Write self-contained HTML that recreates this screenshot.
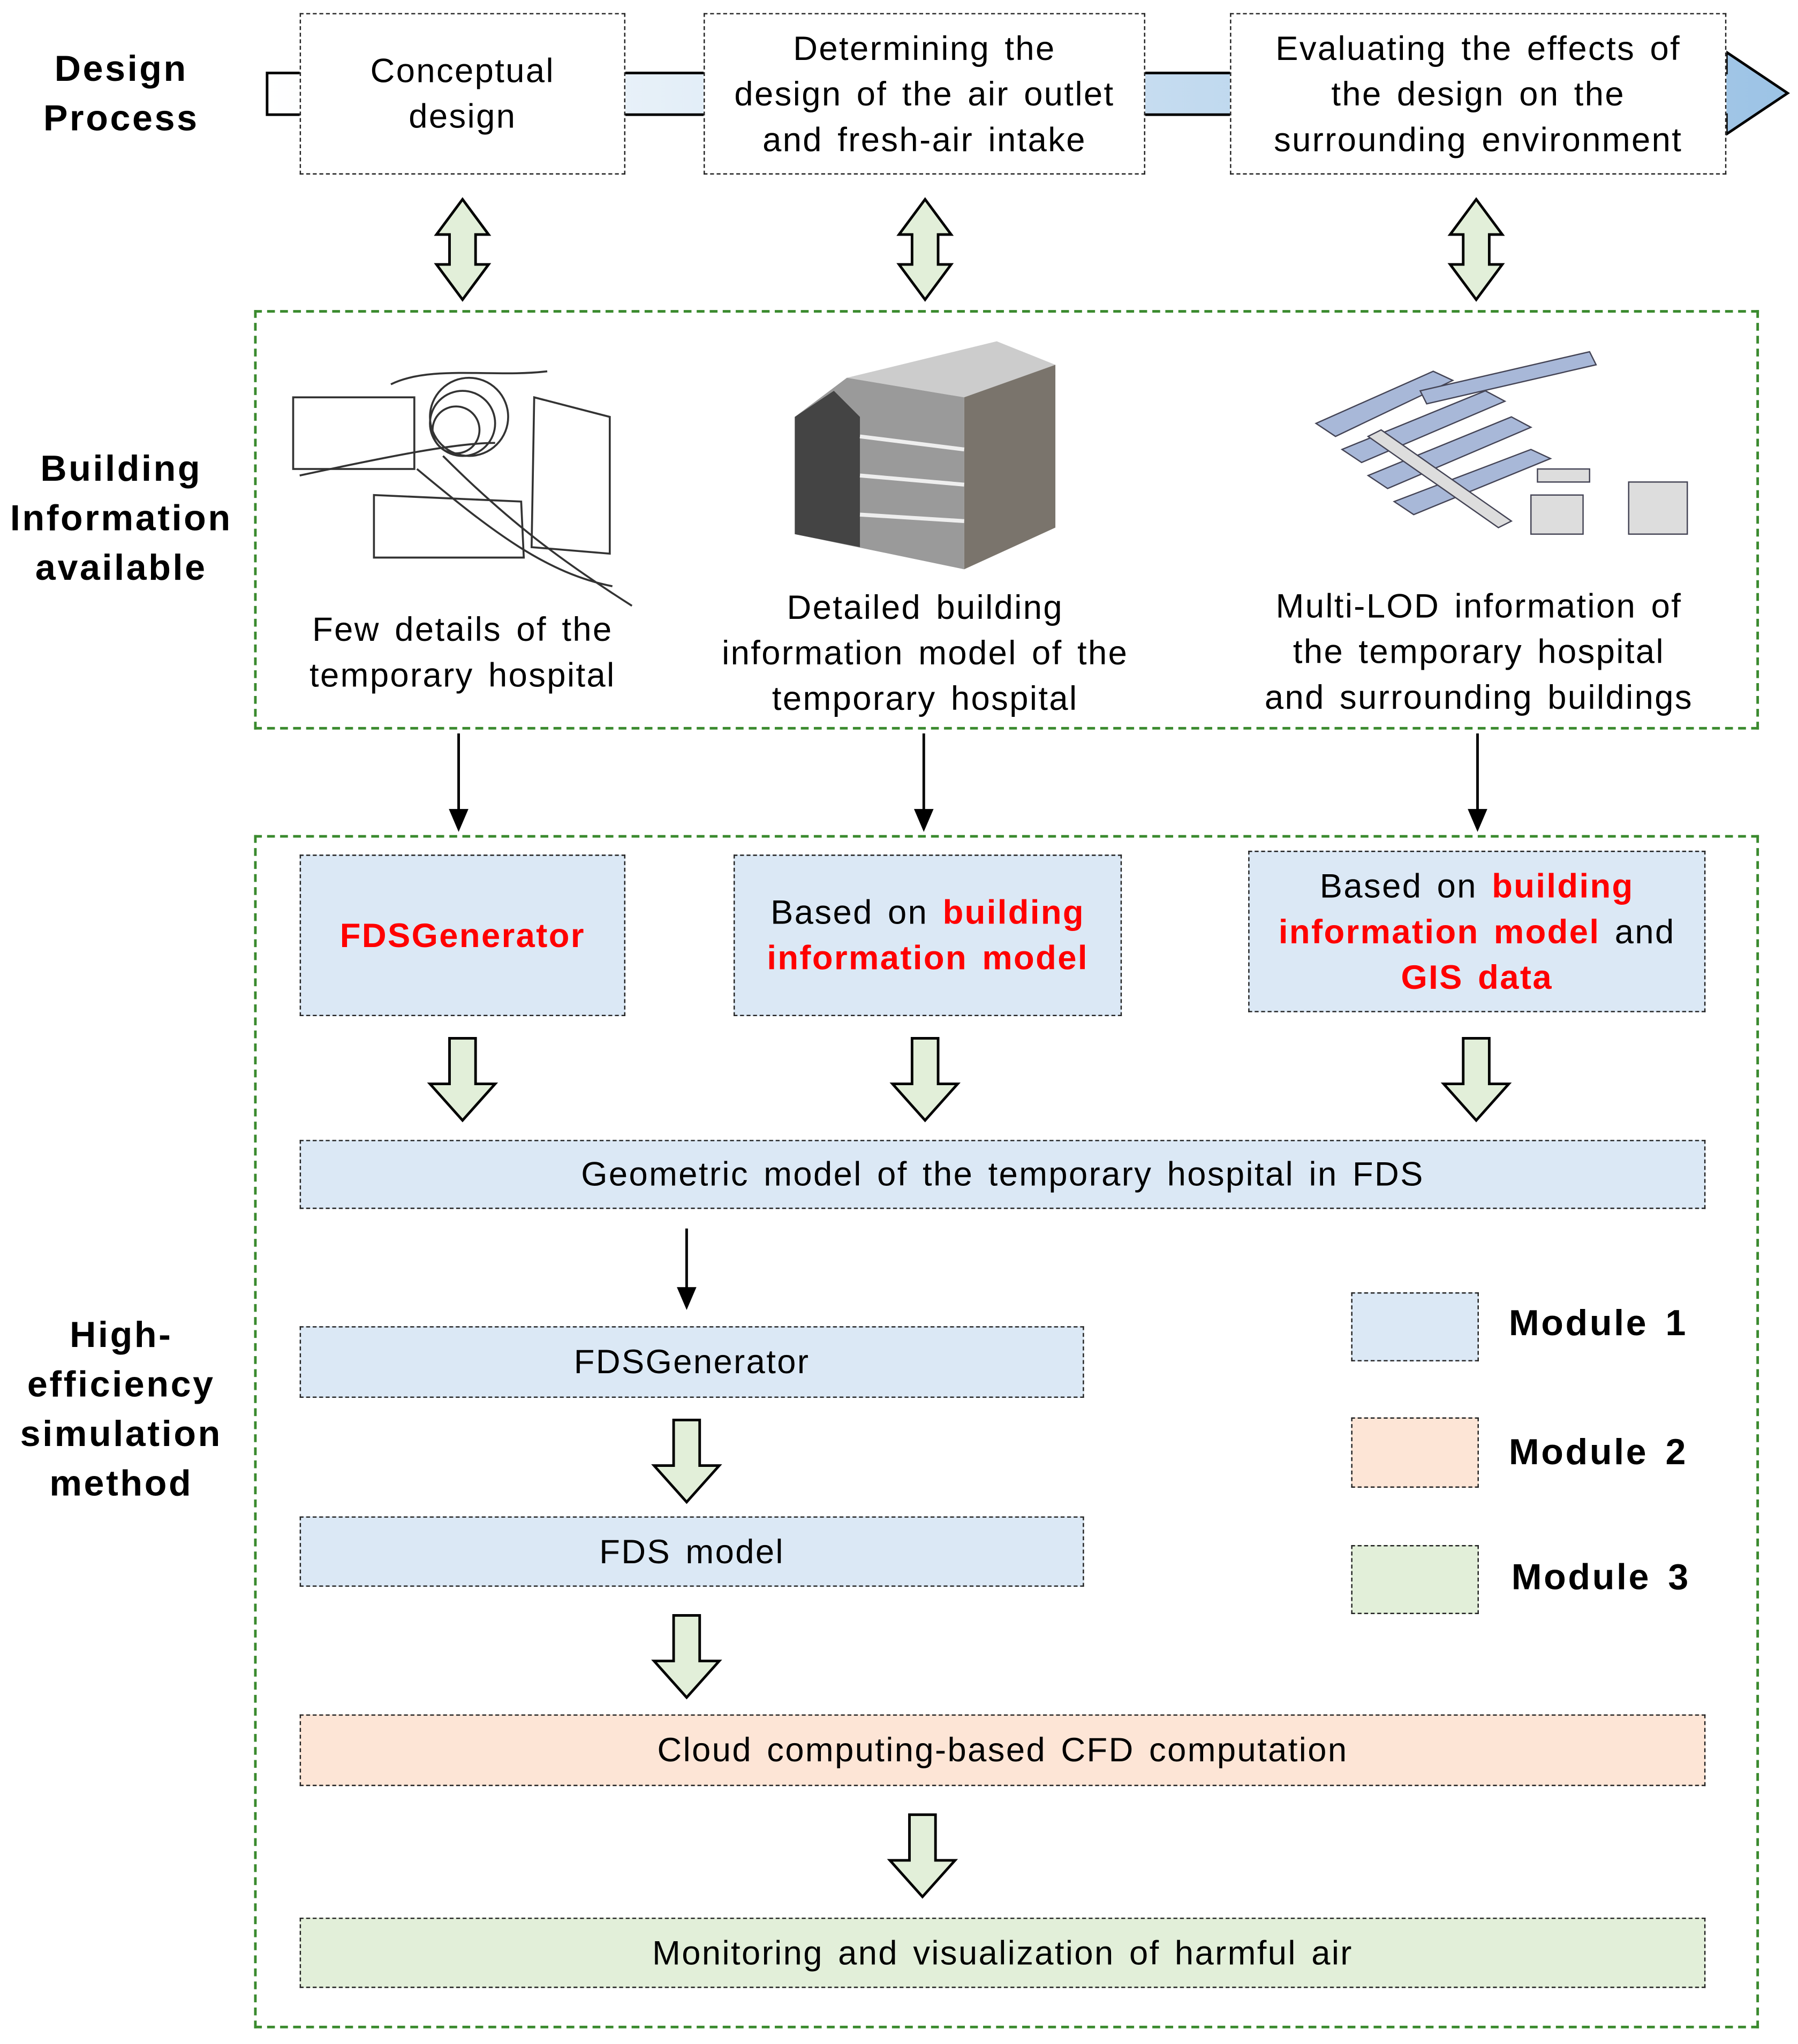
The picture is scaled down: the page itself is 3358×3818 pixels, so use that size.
<!DOCTYPE html>
<html><head><meta charset="utf-8"><style>
html,body{margin:0;padding:0;background:#fff;}
body{width:3358px;height:3817px;overflow:hidden;position:relative;}
#w{position:absolute;left:0;top:0;width:1380px;height:1569px;transform:scale(2.4334);transform-origin:0 0;font-family:"Liberation Sans",Arial,sans-serif;color:#000;}
.b{position:absolute;border:1.5px dashed #222;box-sizing:border-box;display:flex;align-items:center;justify-content:center;text-align:center;font-size:26px;line-height:35px;letter-spacing:1px;word-spacing:3px;}
.t{position:absolute;text-align:center;font-size:26px;line-height:35px;letter-spacing:1px;word-spacing:3px;}
.h{position:absolute;text-align:center;font-weight:bold;font-size:28px;line-height:38px;letter-spacing:1.5px;}
.m{position:absolute;font-weight:bold;font-size:28px;line-height:38px;letter-spacing:1.5px;word-spacing:4px;white-space:nowrap;}
.blue{background:#dbe8f5;}
.r{color:#f00;font-weight:bold;}
.g{position:absolute;border:2px dashed #3a8a2e;box-sizing:border-box;}
</style></head><body><div id="w">
<svg width="1380" height="1569" style="position:absolute;left:0;top:0">
<defs><linearGradient id="gr" x1="0" x2="1"><stop offset="0" stop-color="#fff"/><stop offset="1" stop-color="#9cc3e5"/></linearGradient></defs>
<path d="M205,56 L1325,56 L1325,40 L1372,71.5 L1325,103 L1325,88 L205,88 Z" fill="url(#gr)" stroke="#000" stroke-width="2"/>
<g fill="#e2efd9" stroke="#000" stroke-width="2">
<path id="da" d="M355,153 L375,180 L365,180 L365,203 L375,203 L355,230 L335,203 L345,203 L345,180 L335,180 Z"/>
<use href="#da" x="355"/><use href="#da" x="778"/>
<path id="ha" d="M345,797 L365,797 L365,832 L380,832 L355,860 L330,832 L345,832 Z"/>
<use href="#ha" x="355"/><use href="#ha" x="778"/>
<use href="#ha" x="172" y="293"/><use href="#ha" x="172" y="443"/><use href="#ha" x="353" y="596"/>
</g>
<g stroke="#000" stroke-width="2" fill="#000">
<line x1="352" y1="563" x2="352" y2="625"/><path d="M346,622 L358,622 L352,636Z"/>
<line x1="709" y1="563" x2="709" y2="625"/><path d="M703,622 L715,622 L709,636Z"/>
<line x1="1134" y1="563" x2="1134" y2="625"/><path d="M1128,622 L1140,622 L1134,636Z"/>
<line x1="527" y1="943" x2="527" y2="992"/><path d="M521,989 L533,989 L527,1003Z"/>
</g>
<g fill="none" stroke="#333" stroke-width="1.5">
<rect x="225" y="305" width="93" height="55"/>
<path d="M410,305 L468,320 L468,425 L408,420 Z"/>
<path d="M287,380 L400,385 L402,428 L287,428 Z"/>
<circle cx="355" cy="325" r="25"/><circle cx="350" cy="330" r="18"/><circle cx="360" cy="320" r="30"/>
<path d="M230,365 C300,350 350,340 380,340 M340,350 C390,400 430,430 485,465 M320,360 C380,410 420,440 470,450 M300,295 C330,280 380,290 420,285"/>
</g>
<g>
<path d="M650,290 L765,262 L810,280 L740,305 Z" fill="#ccc"/>
<path d="M740,305 L810,280 L810,405 L740,437 Z" fill="#7a746c"/>
<path d="M610,320 L650,290 L740,305 L740,437 L610,410 Z" fill="#9a9a9a"/>
<path d="M610,320 L640,300 L660,320 L660,420 L610,410 Z" fill="#444"/>
<path d="M660,335 L740,345 M660,365 L740,372 M660,395 L740,400" stroke="#eee" stroke-width="3"/>
</g>
<g fill="#a8b8d8" stroke="#445" stroke-width="1">
<path d="M1010,325 L1100,285 L1115,292 L1025,335 Z"/>
<path d="M1030,345 L1140,300 L1155,308 L1045,355 Z"/>
<path d="M1050,365 L1160,320 L1175,328 L1065,375 Z"/>
<path d="M1070,385 L1175,345 L1190,352 L1085,395 Z"/>
<path d="M1090,300 L1220,270 L1225,280 L1095,310 Z"/>
<path d="M1060,330 L1160,400 L1150,405 L1050,335 Z" fill="#ddd"/>
<rect x="1175" y="380" width="40" height="30" fill="#ddd"/>
<rect x="1250" y="370" width="45" height="40" fill="#ddd"/>
<rect x="1180" y="360" width="40" height="10" fill="#ddd"/>
</g>
</svg>
<div class="h" style="left:0;top:34px;width:186px">Design<br>Process</div>
<div class="b" style="left:230px;top:10px;width:250px;height:124px;background:#fff">Conceptual<br>design</div>
<div class="b" style="left:540px;top:10px;width:339px;height:124px;background:#fff">Determining the<br>design of the air outlet<br>and fresh-air intake</div>
<div class="b" style="left:944px;top:10px;width:381px;height:124px;background:#fff">Evaluating the effects of<br>the design on the<br>surrounding environment</div>
<div class="g" style="left:195px;top:238px;width:1155px;height:322px"></div>
<div class="h" style="left:0;top:341px;width:186px">Building<br>Information<br>available</div>
<div class="t" style="left:190px;top:466px;width:330px">Few details of the<br>temporary hospital</div>
<div class="t" style="left:520px;top:449px;width:380px">Detailed building<br>information model of the<br>temporary hospital</div>
<div class="t" style="left:930px;top:448px;width:410px">Multi-LOD information of<br>the temporary hospital<br>and surrounding buildings</div>
<div class="g" style="left:195px;top:641px;width:1155px;height:916px"></div>
<div class="h" style="left:0;top:1006px;width:186px">High-<br>efficiency<br>simulation<br>method</div>
<div class="b blue" style="left:230px;top:656px;width:250px;height:124px"><span class="r">FDSGenerator</span></div>
<div class="b blue" style="left:563px;top:656px;width:298px;height:124px"><span>Based on <span class="r">building<br>information model</span></span></div>
<div class="b blue" style="left:958px;top:653px;width:351px;height:124px"><span>Based on <span class="r">building<br>information model</span> and<br><span class="r">GIS data</span></span></div>
<div class="b blue" style="left:230px;top:875px;width:1079px;height:53px">Geometric model of the temporary hospital in FDS</div>
<div class="b blue" style="left:230px;top:1018px;width:602px;height:55px">FDSGenerator</div>
<div class="b blue" style="left:230px;top:1164px;width:602px;height:54px">FDS model</div>
<div class="b" style="left:230px;top:1316px;width:1079px;height:55px;background:#fde5d6">Cloud computing-based CFD computation</div>
<div class="b" style="left:230px;top:1472px;width:1079px;height:54px;background:#e2efd9">Monitoring and visualization of harmful air</div>
<div class="b blue" style="left:1037px;top:992px;width:98px;height:53px"></div>
<div class="b" style="left:1037px;top:1088px;width:98px;height:54px;background:#fde5d6"></div>
<div class="b" style="left:1037px;top:1186px;width:98px;height:53px;background:#e2efd9"></div>
<div class="m" style="left:1158px;top:997px">Module 1</div>
<div class="m" style="left:1158px;top:1096px">Module 2</div>
<div class="m" style="left:1160px;top:1192px">Module 3</div>
</div></body></html>
